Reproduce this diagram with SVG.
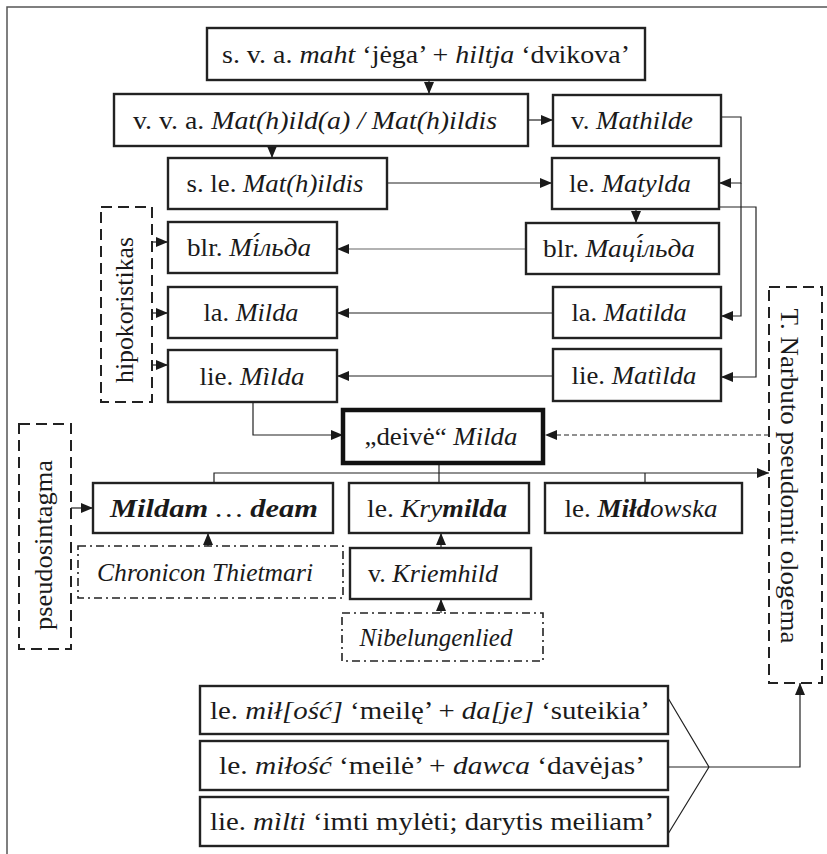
<svg xmlns="http://www.w3.org/2000/svg" width="827" height="854" viewBox="0 0 827 854">
<defs>
<marker id="arr" markerUnits="userSpaceOnUse" markerWidth="12" markerHeight="10" refX="12" refY="5" orient="auto">
<path d="M0,0 L12,5 L0,10 z" fill="#1a1a1a"/>
</marker>
<style>
.frame{stroke:#555;stroke-width:1.5;fill:none}
.box{fill:#fff;stroke:#222;stroke-width:2.4}
.thick{fill:#fff;stroke:#111;stroke-width:4.5}
.dash{fill:none;stroke:#222;stroke-width:2;stroke-dasharray:11,6}
.dd{fill:none;stroke:#222;stroke-width:1.6;stroke-dasharray:8,4,2,4}
.c{fill:none;stroke:#222;stroke-width:1.2}
.ca{fill:none;stroke:#222;stroke-width:1.2;marker-end:url(#arr)}
.cg{fill:none;stroke:#666;stroke-width:1.2;marker-end:url(#arr)}
.cd{fill:none;stroke:#222;stroke-width:1.2;stroke-dasharray:5,3;marker-end:url(#arr)}
text{font-family:"Liberation Serif","DejaVu Serif",serif;font-size:25px;fill:#1a1a1a;text-anchor:middle}
.i{font-style:italic}
.b{font-weight:bold;font-style:italic}
.r{font-size:26px}
</style>
</defs>
<rect width="827" height="854" fill="#fff"/>
<path class="frame" d="M7,854 V7 H827"/>

<g id="connectors">
<path class="ca" d="M429,80 V94"/>
<path class="ca" d="M528,120 H553"/>
<path class="ca" d="M272,146 V158"/>
<path class="ca" d="M387,183 H552"/>
<path class="ca" d="M721,117 H741 V183 H719"/>
<path class="ca" d="M741,183 V316 H721"/>
<path class="ca" d="M719,207 H756 V377 H721"/>
<path class="ca" d="M636,209 V223"/>
<path class="cg" d="M526,249 H337"/>
<path class="ca" d="M553,313 H337"/>
<path class="ca" d="M553,376 H337"/>
<path class="ca" d="M152,242 H168"/>
<path class="ca" d="M152,313 H168"/>
<path class="ca" d="M152,365 H168"/>
<path class="ca" d="M253,402 V435 H343"/>
<path class="cd" d="M769,435 H545"/>
<path class="ca" d="M214,483 V473 H769"/>
<path class="c" d="M439,463 V483"/>
<path class="c" d="M645,473 V483"/>
<path class="ca" d="M71,508 H93"/>
<path class="ca" d="M208,546 V533"/>
<path class="ca" d="M441,548 V533"/>
<path class="ca" d="M441,613 V599"/>
<path class="c" d="M668,698 L709,767 M668,767 L709,767 M668,834 L709,767"/>
<path class="ca" d="M709,767 H800 V683"/>
</g>

<g id="n1"><rect class="box" x="207" y="28" width="438" height="52"/>
<text x="426" y="63" textLength="408" lengthAdjust="spacingAndGlyphs">s. v. a. <tspan class="i">maht</tspan> ‘jėga’ + <tspan class="i">hiltja</tspan> ‘dvikova’</text></g>
<g id="n2"><rect class="box" x="114" y="94" width="414" height="52"/>
<text x="315" y="129" textLength="364" lengthAdjust="spacingAndGlyphs">v. v. a. <tspan class="i">Mat(h)ild(a)  /  Mat(h)ildis</tspan></text></g>
<g id="n3"><rect class="box" x="553" y="95" width="168" height="51"/>
<text x="632" y="129" textLength="122" lengthAdjust="spacingAndGlyphs">v. <tspan class="i">Mathilde</tspan></text></g>
<g id="n4"><rect class="box" x="168" y="158" width="219" height="51"/>
<text x="275" y="192" textLength="177" lengthAdjust="spacingAndGlyphs">s. le. <tspan class="i">Mat(h)ildis</tspan></text></g>
<g id="n5"><rect class="box" x="552" y="158" width="167" height="51"/>
<text x="630" y="192" textLength="122" lengthAdjust="spacingAndGlyphs">le. <tspan class="i">Matylda</tspan></text></g>
<g id="n6"><rect class="box" x="526" y="223" width="193" height="51"/>
<text x="619" y="257" textLength="152" lengthAdjust="spacingAndGlyphs">blr. <tspan class="i">Маці́льда</tspan></text></g>
<g id="n7"><rect class="box" x="168" y="222" width="169" height="51"/>
<text x="249" y="256" textLength="124" lengthAdjust="spacingAndGlyphs">blr. <tspan class="i">Мі́льда</tspan></text></g>
<g id="n8"><rect class="box" x="168" y="287" width="169" height="51"/>
<text x="251" y="321" textLength="95" lengthAdjust="spacingAndGlyphs">la. <tspan class="i">Milda</tspan></text></g>
<g id="n9"><rect class="box" x="553" y="287" width="168" height="51"/>
<text x="629" y="321" textLength="115" lengthAdjust="spacingAndGlyphs">la. <tspan class="i">Matilda</tspan></text></g>
<g id="n10"><rect class="box" x="168" y="350" width="169" height="52"/>
<text x="252" y="385" textLength="105" lengthAdjust="spacingAndGlyphs">lie. <tspan class="i">Mìlda</tspan></text></g>
<g id="n11"><rect class="box" x="553" y="349" width="168" height="52"/>
<text x="634" y="384" textLength="125" lengthAdjust="spacingAndGlyphs">lie. <tspan class="i">Matìlda</tspan></text></g>
<g id="n12"><rect class="thick" x="343" y="410" width="200" height="53"/>
<text x="441" y="445" textLength="153" lengthAdjust="spacingAndGlyphs">„deivė“ <tspan class="i">Milda</tspan></text></g>
<g id="n13"><rect class="box" x="93" y="483" width="240" height="50"/>
<text x="214" y="517" textLength="208" lengthAdjust="spacingAndGlyphs"><tspan class="b">Mildam</tspan><tspan class="i"> … </tspan><tspan class="b">deam</tspan></text></g>
<g id="n14"><rect class="box" x="349" y="483" width="180" height="50"/>
<text x="437" y="517" textLength="140" lengthAdjust="spacingAndGlyphs">le. <tspan class="i">Kry</tspan><tspan class="b">milda</tspan></text></g>
<g id="n15"><rect class="box" x="545" y="483" width="197" height="50"/>
<text x="641" y="517" textLength="153" lengthAdjust="spacingAndGlyphs">le. <tspan class="b">Miłd</tspan><tspan class="i">owska</tspan></text></g>
<g id="n16"><rect class="dd" x="78" y="546" width="265" height="52"/>
<text x="205" y="581" textLength="216" lengthAdjust="spacingAndGlyphs" class="i">Chronicon Thietmari</text></g>
<g id="n17"><rect class="box" x="350" y="548" width="181" height="51"/>
<text x="433" y="582" textLength="130" lengthAdjust="spacingAndGlyphs">v. <tspan class="i">Kriemhild</tspan></text></g>
<g id="n18"><rect class="dd" x="342" y="613" width="201" height="48"/>
<text x="436" y="646" textLength="153" lengthAdjust="spacingAndGlyphs" class="i">Nibelungenlied</text></g>
<g id="n19"><rect class="box" x="200" y="686" width="468" height="48"/>
<text x="430" y="719" textLength="440" lengthAdjust="spacingAndGlyphs">le. <tspan class="i">mił[ość]</tspan> ‘meilę’ + <tspan class="i">da[je]</tspan> ‘suteikia’</text></g>
<g id="n20"><rect class="box" x="200" y="741" width="468" height="49"/>
<text x="432" y="774" textLength="426" lengthAdjust="spacingAndGlyphs">le. <tspan class="i">miłość</tspan> ‘meilė’ + <tspan class="i">dawca</tspan> ‘davėjas’</text></g>
<g id="n21"><rect class="box" x="200" y="797" width="468" height="49"/>
<text x="432" y="830" textLength="444" lengthAdjust="spacingAndGlyphs">lie. <tspan class="i">mìlti</tspan> ‘imti mylėti; darytis  meiliam’</text></g>
<g id="n22"><rect class="dash" x="101" y="207" width="51" height="195"/>
<text class="r" transform="translate(133,310) rotate(-90)" textLength="146" lengthAdjust="spacingAndGlyphs">hipokoristikas</text></g>
<g id="n23"><rect class="dash" x="19" y="424" width="52" height="225"/>
<text class="r" transform="translate(52,545) rotate(-90)" textLength="170" lengthAdjust="spacingAndGlyphs">pseudosintagma</text></g>
<g id="n24"><rect class="dash" x="769" y="287" width="53" height="396"/>
<text class="r" transform="translate(781,476) rotate(90)" textLength="335" lengthAdjust="spacingAndGlyphs">T. Narbuto pseudomit ologema</text></g>
</svg>
